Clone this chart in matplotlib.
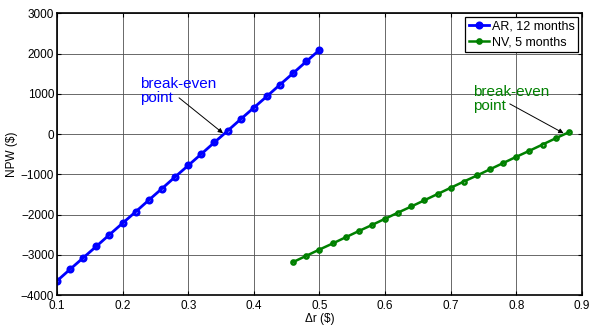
import matplotlib
matplotlib.use('Agg')
import matplotlib.pyplot as plt
import numpy as np

matplotlib.rc('font', family=['Liberation Sans', 'DejaVu Sans'], size=8.5)

# data
ar_x = [0.10, 0.12, 0.14, 0.16, 0.18, 0.20, 0.22, 0.24, 0.26, 0.28, 0.30,
        0.32, 0.34, 0.36, 0.38, 0.40, 0.42, 0.44, 0.46, 0.48, 0.50]
ar_y = [-3650, -3360, -3075, -2790, -2500, -2215, -1930, -1640, -1355, -1065, -780,
        -495, -205, 80, 370, 655, 940, 1230, 1515, 1805, 2090]
nv_x = [0.46, 0.48, 0.50, 0.52, 0.54, 0.56, 0.58, 0.60, 0.62, 0.64, 0.66,
        0.68, 0.70, 0.72, 0.74, 0.76, 0.78, 0.80, 0.82, 0.84, 0.86, 0.88]
nv_y = [-3180, -3025, -2870, -2720, -2565, -2410, -2260, -2105, -1950, -1800, -1645,
        -1490, -1335, -1180, -1030, -875, -720, -565, -415, -260, -105, 45]
labels = ['AR, 12 months', 'NV, 5 months']

fig = plt.figure(figsize=(5.9, 3.25), dpi=100)
ax = fig.add_axes([0.0966, 0.0923, 0.8898, 0.8667])

blue = (0, 0, 1)
green = (0, 0.5, 0)
ax.plot(ar_x, ar_y, '-o', color=blue, lw=2.0, ms=3.6, mfc='none', mew=2.2,
        label=labels[0])
ax.plot(nv_x, nv_y, '-o', color=green, lw=1.8, ms=3.0, mfc='none', mew=1.8,
        label=labels[1])

ax.set_xlim(0.1, 0.9)
ax.set_ylim(-4000, 3000)
xt = np.arange(0.1, 0.9 + 0.01, 0.1)
ax.set_xticks(xt)
ax.set_xticklabels(['%g' % round(t, 1) for t in xt])
ax.set_yticks(np.arange(-4000, 3001, 1000))

ax.grid(True, color='#505050', lw=0.6)
ax.tick_params(direction='in', top=True, right=True, length=3, width=0.8,
               pad=2, labelsize=8.5)
ax.tick_params(axis='x', pad=3.5)
for s in ax.spines.values():
    s.set_linewidth(1.2)

ax.set_xlabel('\u0394r ($)', fontsize=8.5, labelpad=0.5)
ax.set_ylabel('NPW ($)', fontsize=8.5, labelpad=2)

# break-even annotations
ax.text(0.227, 1420, 'break-even\npoint', color=blue, fontsize=11,
        va='top', ha='left', linespacing=1.0)
ax.annotate('', xy=(0.353, 20), xytext=(0.286, 900),
            arrowprops=dict(arrowstyle='-|>', color='black', lw=0.7,
                            shrinkA=0, shrinkB=0, mutation_scale=7))
ax.text(0.734, 1220, 'break-even\npoint', color=green, fontsize=11,
        va='top', ha='left', linespacing=1.0)
ax.annotate('', xy=(0.872, 20), xytext=(0.79, 750),
            arrowprops=dict(arrowstyle='-|>', color='black', lw=0.7,
                            shrinkA=0, shrinkB=0, mutation_scale=7))

leg = ax.legend(loc='upper right', fancybox=False, edgecolor='black',
                framealpha=1, fontsize=9, borderaxespad=0.3, handlelength=1.6,
                handletextpad=0.2, borderpad=0.3, labelspacing=0.3)
leg.get_frame().set_linewidth(0.9)

plt.savefig('out.png', dpi=100)
